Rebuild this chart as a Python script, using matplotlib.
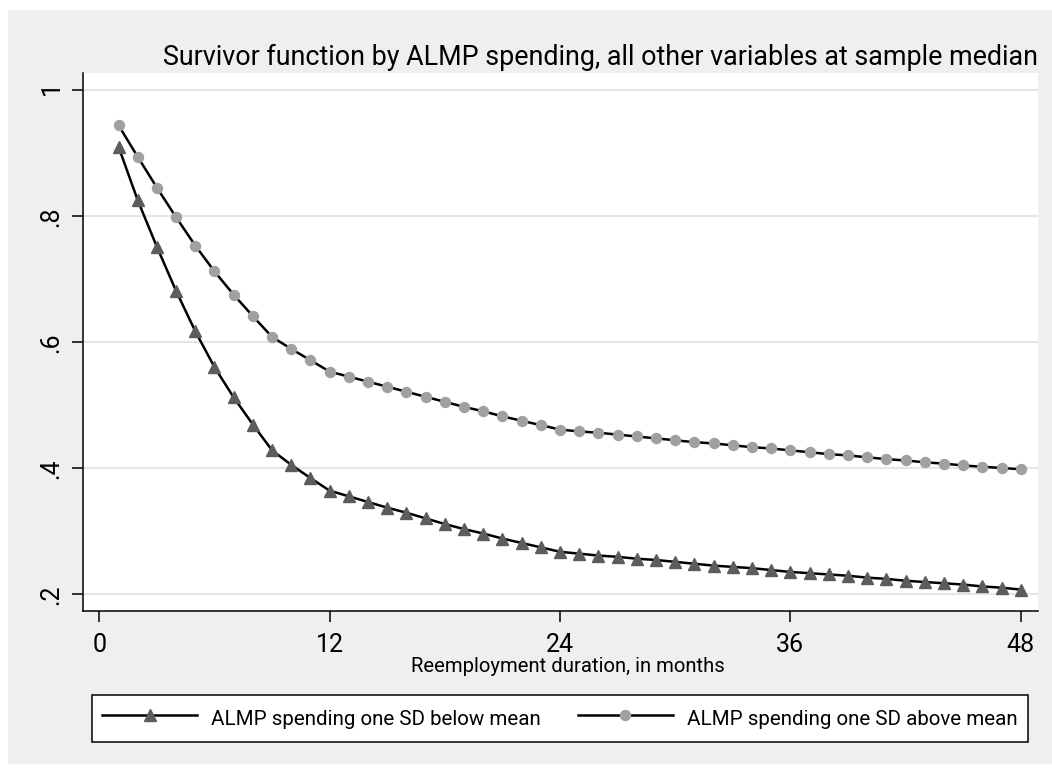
import matplotlib
matplotlib.use("Agg")
import matplotlib.pyplot as plt
from matplotlib.patches import Rectangle

# --- data ---
months = list(range(1, 49))

below_mean = [0.910, 0.825, 0.751, 0.681, 0.617, 0.560, 0.512, 0.469, 0.428, 0.405,
              0.384, 0.364, 0.355, 0.346, 0.337, 0.329, 0.320, 0.311, 0.303, 0.296,
              0.288, 0.281, 0.274, 0.267, 0.264, 0.261, 0.259, 0.256, 0.254, 0.251,
              0.248, 0.245, 0.243, 0.241, 0.238, 0.235, 0.233, 0.231, 0.229, 0.226,
              0.224, 0.221, 0.219, 0.217, 0.215, 0.212, 0.210, 0.207]

above_mean = [0.944, 0.894, 0.845, 0.798, 0.753, 0.712, 0.675, 0.641, 0.608, 0.589,
              0.571, 0.553, 0.545, 0.537, 0.529, 0.521, 0.513, 0.505, 0.497, 0.490,
              0.482, 0.475, 0.468, 0.461, 0.458, 0.456, 0.453, 0.450, 0.447, 0.444,
              0.441, 0.439, 0.436, 0.433, 0.431, 0.428, 0.425, 0.422, 0.420, 0.417,
              0.414, 0.412, 0.409, 0.407, 0.404, 0.402, 0.400, 0.398]

x_ticks = [0, 12, 24, 36, 48]
y_ticks = [0.2, 0.4, 0.6, 0.8, 1.0]
y_tick_labels = [".2", ".4", ".6", ".8", "1"]

title = "Survivor function by ALMP spending, all other variables at sample median"
x_label = "Reemployment duration, in months"
label_below = "ALMP spending one SD below mean"
label_above = "ALMP spending one SD above mean"

# --- figure ---
plt.rcParams["font.family"] = ["Roboto", "DejaVu Sans"]

W, H = 1052, 772
fig = plt.figure(figsize=(W / 100, H / 100), dpi=100, facecolor="white")

# grey graph region (white strip on top and left)
fig.patches.append(Rectangle((8 / W, 1 - 764 / H), (W - 8) / W, (764 - 10) / H,
                             transform=fig.transFigure, facecolor="#efefef",
                             edgecolor="none", zorder=-5))

ax = fig.add_axes([83 / W, 1 - 611 / H, (1038 - 83) / W, (611 - 73) / H])
ax.set_facecolor("white")

ax.plot(months, below_mean, color="black", lw=1.8, marker="^", markersize=8,
        markerfacecolor="#5c5c5c", markeredgecolor="#5c5c5c", label=label_below, zorder=3)
ax.plot(months, above_mean, color="black", lw=1.8, marker="o", markersize=7.2,
        markerfacecolor="#a0a0a0", markeredgecolor="#a0a0a0", label=label_above, zorder=3)

ax.set_xlim(-0.85, 48.9)
ax.set_ylim(0.173, 1.027)
ax.set_xticks(x_ticks)
ax.set_yticks(y_ticks)
ax.set_yticklabels(y_tick_labels)

ax.grid(axis="y", color="#e6e6e6", lw=1.6)
ax.set_axisbelow(True)

for side in ["top", "right"]:
    ax.spines[side].set_visible(False)
for side in ["left", "bottom"]:
    ax.spines[side].set_linewidth(1.1)

ax.tick_params(axis="both", direction="out", length=8, width=1.1, labelsize=18, pad=6)
ax.tick_params(axis="x", pad=8)
ax.tick_params(axis="y", labelrotation=90)

# title and axis title
fig.text(1038 / W, 1 - 65 / H, title, ha="right", va="baseline", fontsize=19.4)
fig.text(568 / W, 1 - 672 / H, x_label, ha="center", va="baseline", fontsize=14.6)

# legend box under the plot
handles, labels = ax.get_legend_handles_labels()
leg = fig.legend(handles, labels, loc="lower left", ncol=2, mode="expand",
                 bbox_to_anchor=(92 / W, 1 - 742 / H, 936 / W, 50 / H),
                 borderaxespad=0, fontsize=14.8, handlelength=4.6, handletextpad=0.7,
                 handleheight=1.6, borderpad=0.5, fancybox=False, framealpha=1,
                 edgecolor="black", facecolor="white")
leg.get_frame().set_linewidth(1.1)

fig.savefig("out.png", dpi=100, facecolor=fig.get_facecolor())
